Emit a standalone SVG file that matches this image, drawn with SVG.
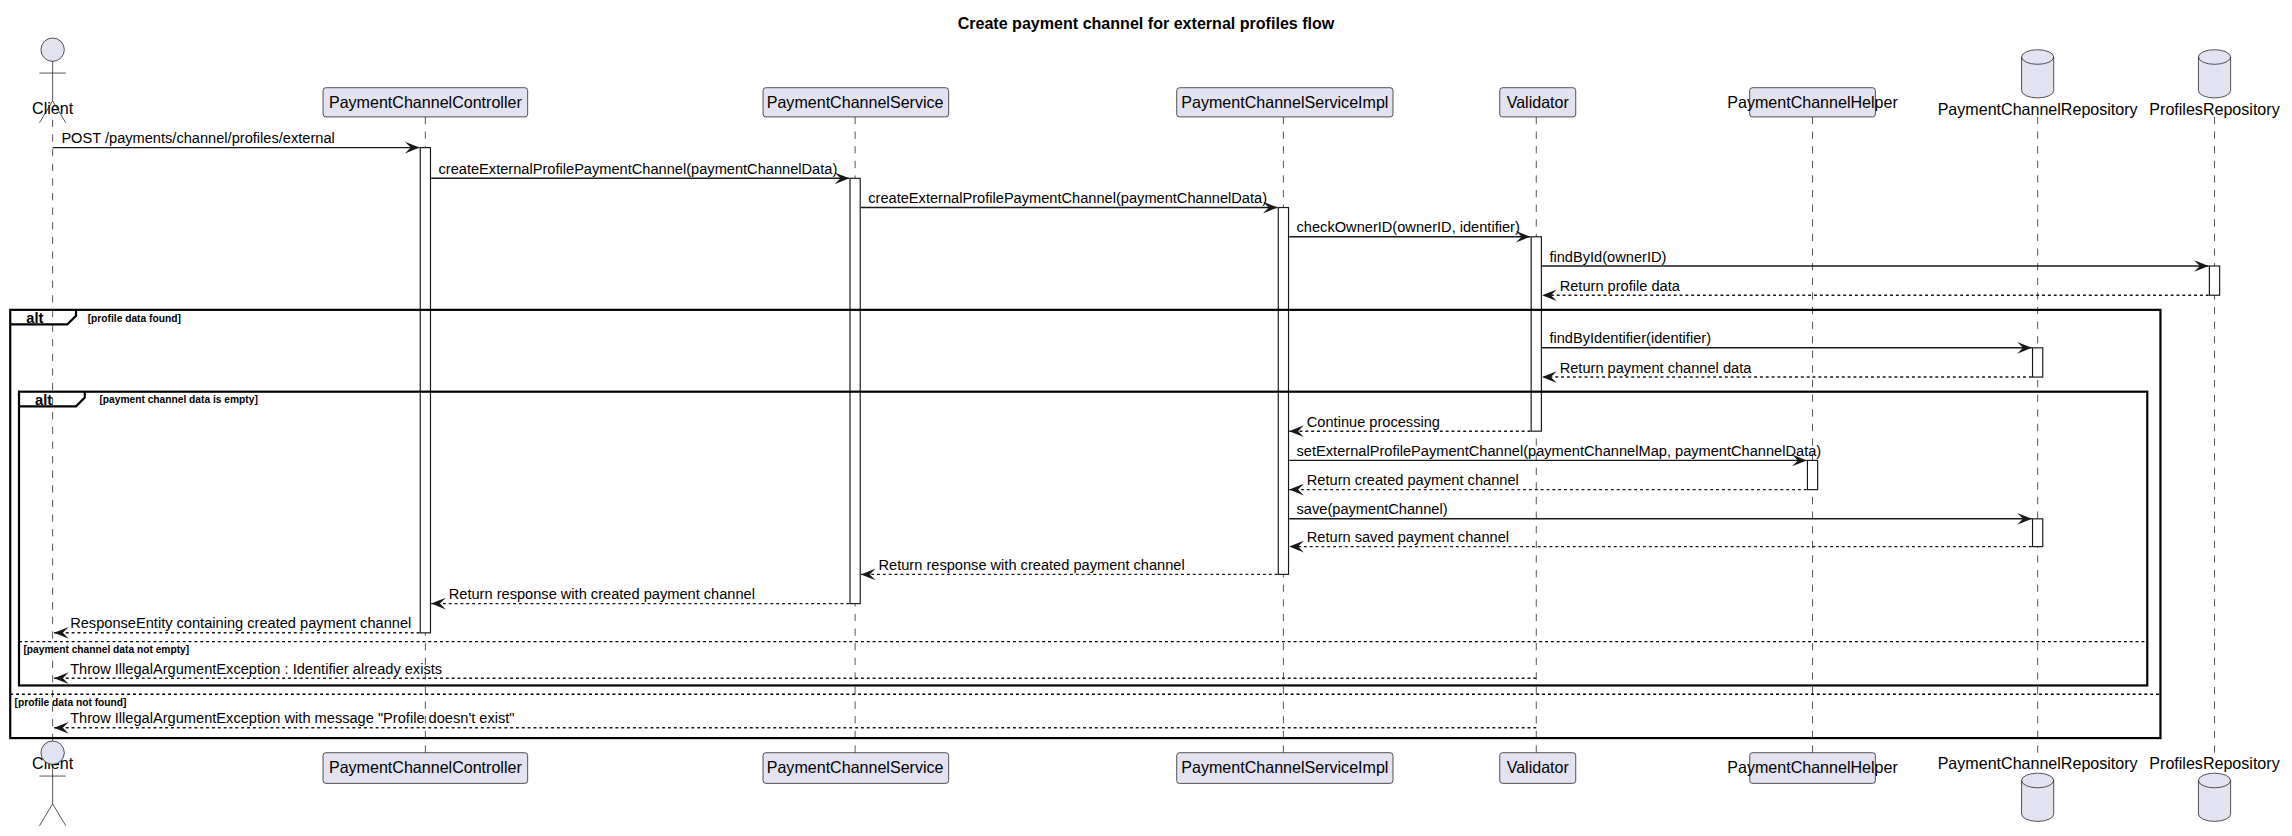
<svg xmlns="http://www.w3.org/2000/svg" width="2292" height="836" viewBox="0 0 2292 836">
<style>
.t{font-family:"Liberation Sans",Arial,sans-serif;font-size:10px;fill:#000}
.p{font-family:"Liberation Sans",Arial,sans-serif;font-size:11px;fill:#000}
.b{fill:#E2E2F0;stroke:#181818;stroke-width:0.5}
.ll{stroke:#181818;stroke-width:0.5;stroke-dasharray:5,5;fill:none}
.act{fill:#fff;stroke:#181818;stroke-width:0.8}
.m{stroke:#181818;stroke-width:1;fill:none;marker-end:url(#ah)}
.d{stroke:#181818;stroke-width:1;fill:none;stroke-dasharray:2,2;marker-end:url(#ah)}
.fr{fill:none;stroke:#000;stroke-width:1.5}
.sep{stroke:#000;stroke-width:1;stroke-dasharray:2,2}
.ft{font-family:"Liberation Sans",Arial,sans-serif;font-weight:bold;fill:#000}
</style>
<defs>
<marker id="ah" viewBox="-11 -5 12 10" refX="0" refY="0" markerWidth="12" markerHeight="10" markerUnits="userSpaceOnUse" orient="auto"><path d="M0,0 L-10,-4 L-6,0 L-10,4 Z" fill="#181818"/></marker>
<g id="actor"><circle cx="0" cy="-28" r="8" class="b"/><path d="M0,-20 V7 M-9,-12 H9 M-9,22 L0,7 L9,22" stroke="#181818" stroke-width="0.5" fill="none"/></g>
<g id="cyl"><path d="M-11,5 A11,5 0 0 1 11,5 V28 A11,5 0 0 1 -11,28 Z" class="b"/><path d="M-11,5 A11,5 0 0 0 11,5" fill="none" stroke="#181818" stroke-width="0.5"/></g>
</defs>
<rect width="2292" height="836" fill="#fff"/>
<g transform="scale(1.46173,1.46154)">
<text x="784" y="20" text-anchor="middle" class="ft" font-size="11">Create payment channel for external profiles flow</text>
<g id="lifelines">
<line x1="36" y1="82" x2="36" y2="515" class="ll"/><line x1="291" y1="80" x2="291" y2="515" class="ll"/><line x1="585" y1="80" x2="585" y2="515" class="ll"/><line x1="878" y1="80" x2="878" y2="515" class="ll"/><line x1="1051" y1="80" x2="1051" y2="515" class="ll"/><line x1="1240" y1="80" x2="1240" y2="515" class="ll"/><line x1="1394" y1="80" x2="1394" y2="515" class="ll"/><line x1="1515" y1="80" x2="1515" y2="515" class="ll"/>
</g>
<g id="client"><use href="#actor" x="36" y="62"/><text x="36" y="78" text-anchor="middle" class="p">Client</text><text x="36" y="526" text-anchor="middle" class="p">Client</text><use href="#actor" x="36" y="567" transform="translate(0,-24)"/></g>
<g id="controller"><rect x="221" y="60" width="140" height="20" rx="2" class="b"/><text x="291" y="74" text-anchor="middle" class="p">PaymentChannelController</text><rect x="221" y="515" width="140" height="21" rx="2" class="b"/><text x="291" y="529" text-anchor="middle" class="p">PaymentChannelController</text></g>
<g id="service"><rect x="522" y="60" width="127" height="20" rx="2" class="b"/><text x="585" y="74" text-anchor="middle" class="p">PaymentChannelService</text><rect x="522" y="515" width="127" height="21" rx="2" class="b"/><text x="585" y="529" text-anchor="middle" class="p">PaymentChannelService</text></g>
<g id="impl"><rect x="805" y="60" width="148" height="20" rx="2" class="b"/><text x="879" y="74" text-anchor="middle" class="p">PaymentChannelServiceImpl</text><rect x="805" y="515" width="148" height="21" rx="2" class="b"/><text x="879" y="529" text-anchor="middle" class="p">PaymentChannelServiceImpl</text></g>
<g id="validator"><rect x="1026" y="60" width="52" height="20" rx="2" class="b"/><text x="1052" y="74" text-anchor="middle" class="p">Validator</text><rect x="1026" y="515" width="52" height="21" rx="2" class="b"/><text x="1052" y="529" text-anchor="middle" class="p">Validator</text></g>
<g id="helper"><rect x="1197" y="60" width="86" height="20" rx="2" class="b"/><text x="1240" y="74" text-anchor="middle" class="p">PaymentChannelHelper</text><rect x="1197" y="515" width="86" height="21" rx="2" class="b"/><text x="1240" y="529" text-anchor="middle" class="p">PaymentChannelHelper</text></g>
<g id="pcrepo"><use href="#cyl" x="1394" y="34"/><text x="1394" y="79" text-anchor="middle" class="p">PaymentChannelRepository</text><text x="1394" y="526" text-anchor="middle" class="p">PaymentChannelRepository</text><use href="#cyl" x="1394" y="529"/></g>
<g id="profrepo"><use href="#cyl" x="1515" y="34"/><text x="1515" y="79" text-anchor="middle" class="p">ProfilesRepository</text><text x="1515" y="526" text-anchor="middle" class="p">ProfilesRepository</text><use href="#cyl" x="1515" y="529"/></g>
<g id="activations">
<rect x="287.5" y="101" width="7" height="332" class="act"/><rect x="581.5" y="122" width="7" height="291" class="act"/><rect x="874.5" y="142" width="7" height="251" class="act"/><rect x="1047.5" y="162" width="7" height="133" class="act"/><rect x="1511.5" y="182" width="7" height="20" class="act"/><rect x="1390.5" y="238" width="7" height="20" class="act"/><rect x="1236.5" y="315" width="7" height="20" class="act"/><rect x="1390.5" y="355" width="7" height="19" class="act"/>
</g>
<g id="frames">
<rect x="7" y="212" width="1471" height="293" class="fr"/><path d="M7,222 H46 L52,216 V212" class="fr" stroke-width="1"/><text x="18" y="221" class="ft" font-size="10">alt</text><text x="60" y="220" class="ft" font-size="7">[profile data found]</text>
<line x1="7" y1="475" x2="1478" y2="475" class="sep"/><text x="10" y="483" class="ft" font-size="7">[profile data not found]</text>
<rect x="13" y="268" width="1456" height="201" class="fr"/><path d="M13,278 H52 L58,272 V268" class="fr" stroke-width="1"/><text x="24" y="277" class="ft" font-size="10">alt</text><text x="68" y="276" class="ft" font-size="7">[payment channel data is empty]</text>
<line x1="13" y1="439" x2="1469" y2="439" class="sep"/><text x="16" y="447" class="ft" font-size="7">[payment channel data not empty]</text>
</g>
<g id="connectors">
<line x1="36" y1="101" x2="287" y2="101" class="m"/><text x="42" y="98" class="t">POST /payments/channel/profiles/external</text>
<line x1="295" y1="122" x2="581" y2="122" class="m"/><text x="300" y="119" class="t">createExternalProfilePaymentChannel(paymentChannelData)</text>
<line x1="589" y1="142" x2="874" y2="142" class="m"/><text x="594" y="139" class="t">createExternalProfilePaymentChannel(paymentChannelData)</text>
<line x1="882" y1="162" x2="1047" y2="162" class="m"/><text x="887" y="159" class="t">checkOwnerID(ownerID, identifier)</text>
<line x1="1055" y1="182" x2="1511" y2="182" class="m"/><text x="1060" y="179" class="t">findById(ownerID)</text>
<line x1="1511" y1="202" x2="1055" y2="202" class="d"/><text x="1067" y="199" class="t">Return profile data</text>
<line x1="1055" y1="238" x2="1390" y2="238" class="m"/><text x="1060" y="235" class="t">findByIdentifier(identifier)</text>
<line x1="1390" y1="258" x2="1055" y2="258" class="d"/><text x="1067" y="255" class="t">Return payment channel data</text>
<line x1="1047" y1="295" x2="882" y2="295" class="d"/><text x="894" y="292" class="t">Continue processing</text>
<line x1="882" y1="315" x2="1236" y2="315" class="m"/><text x="887" y="312" class="t">setExternalProfilePaymentChannel(paymentChannelMap, paymentChannelData)</text>
<line x1="1236" y1="335" x2="882" y2="335" class="d"/><text x="894" y="332" class="t">Return created payment channel</text>
<line x1="882" y1="355" x2="1390" y2="355" class="m"/><text x="887" y="352" class="t">save(paymentChannel)</text>
<line x1="1390" y1="374" x2="882" y2="374" class="d"/><text x="894" y="371" class="t">Return saved payment channel</text>
<line x1="874" y1="393" x2="589" y2="393" class="d"/><text x="601" y="390" class="t">Return response with created payment channel</text>
<line x1="581" y1="413" x2="295" y2="413" class="d"/><text x="307" y="410" class="t">Return response with created payment channel</text>
<line x1="287" y1="433" x2="37" y2="433" class="d"/><text x="48" y="430" class="t">ResponseEntity containing created payment channel</text>
<line x1="1051" y1="464" x2="37" y2="464" class="d"/><text x="48" y="461" class="t">Throw IllegalArgumentException : Identifier already exists</text>
<line x1="1051" y1="498" x2="37" y2="498" class="d"/><text x="48" y="495" class="t">Throw IllegalArgumentException with message "Profile doesn't exist"</text>
</g>
</g>
</svg>
